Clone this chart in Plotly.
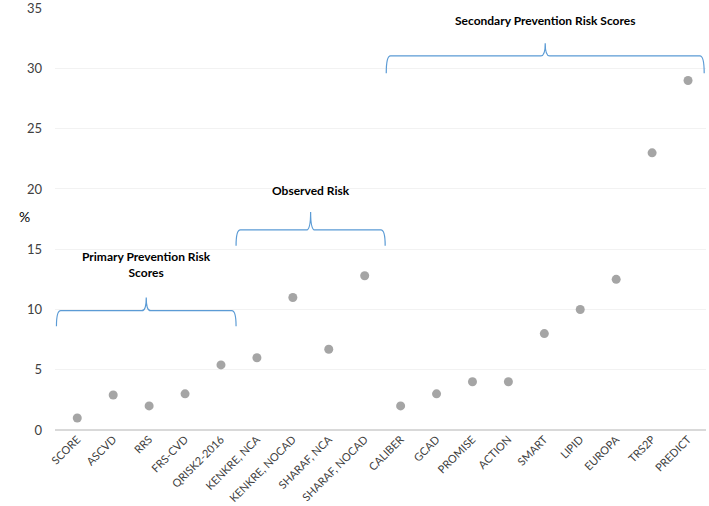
import plotly.graph_objects as go

categories = ["SCORE", "ASCVD", "RRS", "FRS-CVD", "QRISK2-2016", "KENKRE, NCA",
              "KENKRE, NOCAD", "SHARAF, NCA", "SHARAF, NOCAD", "CALIBER", "GCAD",
              "PROMISE", "ACTION", "SMART", "LIPID", "EUROPA", "TRS2P", "PREDICT"]
values = [1, 2.9, 2, 3, 5.4, 6, 11, 6.7, 12.8, 2, 3, 4, 4, 8, 10, 12.5, 23, 29]

groups = [
    {"label": "Primary Prevention Risk<br>Scores", "x0": -0.58, "x1": 4.42,
     "ytop": 9.9, "yend": 8.6, "ytip": 11.0, "ytext": 13.75},
    {"label": "Observed Risk", "x0": 4.42, "x1": 8.57,
     "ytop": 16.6, "yend": 15.3, "ytip": 18.1, "ytext": 19.85},
    {"label": "Secondary Prevention Risk Scores", "x0": 8.6, "x1": 17.45,
     "ytop": 31.05, "yend": 29.6, "ytip": 32.1, "ytext": 34.0},
]

idx = list(range(len(categories)))
font = "Lato, 'Open Sans', sans-serif"

fig = go.Figure()
fig.add_trace(go.Scatter(x=idx, y=values, mode="markers",
                         marker=dict(color="#A5A5A5", size=9), hoverinfo="skip",
                         showlegend=False))

shapes = []
annotations = []
for g in groups:
    x0, x1 = g["x0"], g["x1"]
    xc = (x0 + x1) / 2
    yt, yb, ytip = g["ytop"], g["yend"], g["ytip"]
    dx = 0.12
    path = (f"M {x0},{yb} Q {x0},{yt} {x0+dx},{yt} L {xc-dx},{yt} "
            f"Q {xc},{yt} {xc},{ytip} Q {xc},{yt} {xc+dx},{yt} "
            f"L {x1-dx},{yt} Q {x1},{yt} {x1},{yb}")
    shapes.append(dict(type="path", path=path, xref="x", yref="y",
                       line=dict(color="#5B9BD5", width=1.2)))
    annotations.append(dict(x=xc, y=g["ytext"], xref="x", yref="y",
                            text="<b>" + g["label"].replace("<br>", "</b><br><b>") + "</b>",
                            showarrow=False, font=dict(family=font, size=12, color="#000000"),
                            yanchor="middle"))

annotations.append(dict(x=-0.058, y=0.506, xref="paper", yref="paper", text="%",
                        showarrow=False, font=dict(family=font, size=14, color="#000000")))

fig.update_layout(
    width=709, height=506,
    margin=dict(l=55, r=3, t=8, b=76, autoexpand=False),
    plot_bgcolor="white", paper_bgcolor="white",
    shapes=shapes, annotations=annotations,
    xaxis=dict(tickvals=idx, ticktext=categories, range=[-0.62, 17.5],
               tickangle=-45, showgrid=False, zeroline=False, showline=False,
               tickfont=dict(family=font, size=11, color="#404040"), ticks="",
               automargin=False, ticklabeloverflow="allow"),
    yaxis=dict(range=[0, 35.02], tickvals=[0, 5, 10, 15, 20, 25, 30, 35],
               showgrid=True, gridcolor="#F2F2F2",
               zeroline=True, zerolinecolor="#D9D9D9", zerolinewidth=1.5,
               tickfont=dict(family=font, size=13, color="#404040"), ticks="",
               ticklabelstandoff=12, automargin=False, ticklabeloverflow="allow"),
)

fig.write_html("out.html", config={"displayModeBar": False},
               post_script="document.body.style.margin='0';")
